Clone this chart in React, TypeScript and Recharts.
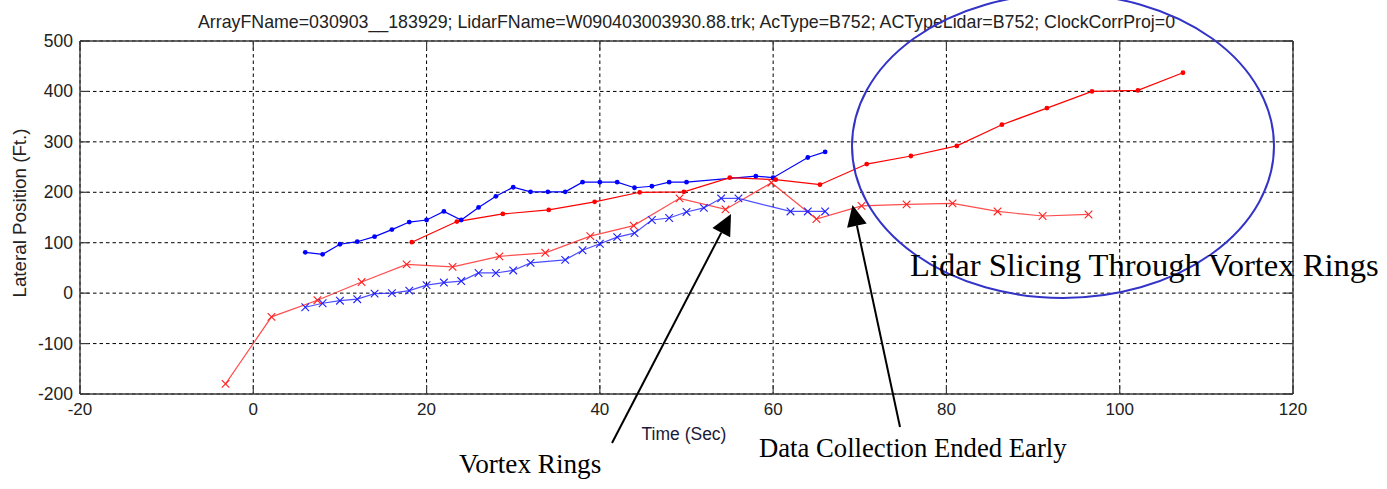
import React from 'react';
import { LineChart, Line, XAxis, YAxis, CartesianGrid } from 'recharts';

// Time (s) and lateral position (ft) of each tracked vortex
const blueDotT = [6, 8, 10, 12, 14, 16, 18, 20, 22, 24, 26, 28, 30, 32, 34, 36, 38, 40, 42, 44, 46, 48, 50, 58, 60, 64, 66];
const blueDotV = [81, 77, 97, 102, 112, 126, 141, 145, 162, 145, 170, 192, 210, 201, 201, 201, 220, 220, 220, 209, 212, 220, 220, 232, 229, 269, 280];

const blueXT = [6, 8, 10, 12, 14, 16, 18, 20, 22, 24, 26, 28, 30, 32, 36, 38, 40, 42, 44, 46, 48, 50, 52, 54, 56, 62, 64, 66];
const blueXV = [-28, -20, -15, -12, -1, 0, 5, 16, 21, 24, 40, 40, 45, 60, 66, 85, 98, 111, 119, 145, 149, 161, 169, 188, 188, 162, 162, 162];

const redDotT = [18.3, 23.5, 28.8, 34.1, 39.4, 44.6, 49.7, 55.0, 60.3, 65.4, 70.8, 75.9, 81.2, 86.4, 91.6, 96.8, 102.1, 107.3];
const redDotV = [101, 142, 157, 165, 181, 200, 201, 229, 225, 215, 256, 272, 292, 334, 367, 400, 402, 437];

const redXT = [-3.2, 2.1, 7.4, 12.5, 17.7, 23.0, 28.4, 33.7, 38.9, 43.9, 49.2, 54.5, 59.8, 65.0, 70.2, 75.4, 80.7, 85.9, 91.1, 96.4];
const redXV = [-180, -47, -14, 22, 57, 52, 73, 80, 113, 134, 188, 166, 219, 147, 173, 176, 178, 162, 153, 156];

const xTicks = [-20, 0, 20, 40, 60, 80, 100, 120];
const yTicks = [-200, -100, 0, 100, 200, 300, 400, 500];

const titleText =
  'ArrayFName=030903__183929; LidarFName=W090403003930.88.trk; AcType=B752; ACTypeLidar=B752; ClockCorrProj=0';

const zip = (ts: number[], vs: number[]) => ts.map((t, i) => ({ t, v: vs[i] }));

const blueDots = zip(blueDotT, blueDotV);
const blueXs = zip(blueXT, blueXV);
const redDots = zip(redDotT, redDotV);
const redXs = zip(redXT, redXV);

const W = 1387;
const H = 489;
const AX = 1; // thickness reserved for each axis band
const M = { top: 41 - AX, right: 94 - AX, bottom: 95 - AX, left: 80 - AX };
const PLOT = { left: 80, top: 41, right: W - 94, bottom: H - 95 };
const SANS = '"Liberation Sans", Arial, sans-serif';
const SERIF = '"Liberation Serif", "Times New Roman", serif';
const BOX = '#3c3c3c';
const TICK_LEN = 9;

const BottomTick = (props: any) => {
  const { x, payload } = props;
  const y = PLOT.bottom;
  return (
    <g>
      <line x1={x} y1={y} x2={x} y2={y - TICK_LEN} stroke={BOX} strokeWidth={1.2} />
      <text x={x} y={y + 21} textAnchor="middle" fontFamily={SANS} fontSize={17} fill="#222">
        {payload.value}
      </text>
    </g>
  );
};

const TopTick = (props: any) => {
  const { x } = props;
  const y = PLOT.top;
  return <line x1={x} y1={y} x2={x} y2={y + TICK_LEN} stroke={BOX} strokeWidth={1.2} />;
};

const LeftTick = (props: any) => {
  const { y, payload } = props;
  const x = PLOT.left;
  return (
    <g>
      <line x1={x} y1={y} x2={x + TICK_LEN} y2={y} stroke={BOX} strokeWidth={1.2} />
      <text x={x - 7} y={y + 6} textAnchor="end" fontFamily={SANS} fontSize={17.5} fill="#222">
        {payload.value}
      </text>
    </g>
  );
};

const RightTick = (props: any) => {
  const { y } = props;
  const x = PLOT.right;
  return <line x1={x} y1={y} x2={x - TICK_LEN} y2={y} stroke={BOX} strokeWidth={1.2} />;
};

const dotMark = (color: string) => (props: any) => {
  const { cx, cy, index } = props;
  return <circle key={`d${index}`} cx={cx} cy={cy} r={2.4} fill={color} stroke="none" />;
};

const crossMark = (color: string) => (props: any) => {
  const { cx, cy, index } = props;
  const s = 3.8;
  return (
    <path
      key={`x${index}`}
      d={`M${cx - s},${cy - s}L${cx + s},${cy + s}M${cx - s},${cy + s}L${cx + s},${cy - s}`}
      stroke={color}
      strokeWidth={1.1}
      fill="none"
    />
  );
};

type Pt = [number, number];

const Arrow = ({ tail, tip }: { tail: Pt; tip: Pt }) => {
  const dx = tip[0] - tail[0];
  const dy = tip[1] - tail[1];
  const len = Math.hypot(dx, dy);
  const ux = dx / len;
  const uy = dy / len;
  const headLen = 21;
  const halfW = 10;
  const bx = tip[0] - ux * headLen;
  const by = tip[1] - uy * headLen;
  const p1: Pt = [bx - uy * halfW, by + ux * halfW];
  const p2: Pt = [bx + uy * halfW, by - ux * halfW];
  return (
    <g>
      <line x1={tail[0]} y1={tail[1]} x2={bx} y2={by} stroke="#000" strokeWidth={2} />
      <polygon points={`${tip[0]},${tip[1]} ${p1[0]},${p1[1]} ${p2[0]},${p2[1]}`} fill="#000" />
    </g>
  );
};

export default function App() {
  const plotCx = (PLOT.left + PLOT.right) / 2;
  const axisLine = { stroke: BOX, strokeWidth: 1.4 };
  return (
    <div style={{ position: 'absolute', left: 0, top: 0, width: W, height: H, background: '#fff' }}>
      <LineChart width={W} height={H} margin={M}>
        <CartesianGrid xAxisId="b" yAxisId="l" stroke="#000" strokeDasharray="3.5 3" strokeWidth={1} />
        <XAxis
          xAxisId="b"
          dataKey="t"
          type="number"
          domain={[-20, 120]}
          ticks={xTicks}
          height={AX}
          tickSize={0}
          tickMargin={0}
          tickLine={false}
          axisLine={axisLine}
          tick={<BottomTick />}
          allowDataOverflow
          interval={0}
        />
        <XAxis
          xAxisId="t"
          orientation="top"
          dataKey="t"
          type="number"
          domain={[-20, 120]}
          ticks={xTicks}
          height={AX}
          tickSize={0}
          tickMargin={0}
          tickLine={false}
          axisLine={axisLine}
          tick={<TopTick />}
          allowDataOverflow
          interval={0}
        />
        <YAxis
          yAxisId="l"
          type="number"
          domain={[-200, 500]}
          ticks={yTicks}
          width={AX}
          tickSize={0}
          tickMargin={0}
          tickLine={false}
          axisLine={axisLine}
          tick={<LeftTick />}
          allowDataOverflow
          interval={0}
        />
        <YAxis
          yAxisId="r"
          orientation="right"
          type="number"
          domain={[-200, 500]}
          ticks={yTicks}
          width={AX}
          tickSize={0}
          tickMargin={0}
          tickLine={false}
          axisLine={axisLine}
          tick={<RightTick />}
          allowDataOverflow
          interval={0}
        />
        <Line
          xAxisId="b"
          yAxisId="l"
          data={redXs}
          dataKey="v"
          stroke="#ff2020"
          strokeOpacity={0.8}
          strokeWidth={1.2}
          dot={crossMark('#ff2020')}
          activeDot={false}
          isAnimationActive={false}
        />
        <Line
          xAxisId="b"
          yAxisId="l"
          data={blueXs}
          dataKey="v"
          stroke="#2020ff"
          strokeOpacity={0.8}
          strokeWidth={1.2}
          dot={crossMark('#2020ff')}
          activeDot={false}
          isAnimationActive={false}
        />
        <Line
          xAxisId="b"
          yAxisId="l"
          data={blueDots}
          dataKey="v"
          stroke="#0000ff"
          strokeWidth={1.2}
          dot={dotMark('#0000ff')}
          activeDot={false}
          isAnimationActive={false}
        />
        <Line
          xAxisId="b"
          yAxisId="l"
          data={redDots}
          dataKey="v"
          stroke="#ff0000"
          strokeWidth={1.2}
          dot={dotMark('#ff0000')}
          activeDot={false}
          isAnimationActive={false}
        />
      </LineChart>

      <svg
        width={W}
        height={H}
        style={{ position: 'absolute', left: 0, top: 0, pointerEvents: 'none', overflow: 'hidden' }}
      >
        <text x={plotCx} y={28} textAnchor="middle" fontFamily={SANS} fontSize={17.8} fill="#222">
          {titleText}
        </text>
        <text x={684} y={440} textAnchor="middle" fontFamily={SANS} fontSize={17.5} fill="#1a1a3a">
          Time (Sec)
        </text>
        <text
          x={0}
          y={0}
          transform="translate(26, 213) rotate(-90)"
          textAnchor="middle"
          fontFamily={SANS}
          fontSize={18.8}
          fill="#222"
        >
          Lateral Position (Ft.)
        </text>

        <ellipse cx={1063} cy={146} rx={211} ry={152} fill="none" stroke="#3333c8" strokeWidth={2} />
        <text x={910} y={276} fontFamily={SERIF} fontSize={32.6} fill="#000">
          Lidar Slicing Through Vortex Rings
        </text>

        <Arrow tail={[612, 443]} tip={[731, 214]} />
        <text x={459} y={473} fontFamily={SERIF} fontSize={27.2} fill="#000">
          Vortex Rings
        </text>

        <Arrow tail={[900, 427]} tip={[852.5, 205]} />
        <text x={759} y={457} fontFamily={SERIF} fontSize={26.7} fill="#000">
          Data Collection Ended Early
        </text>
      </svg>
    </div>
  );
}
